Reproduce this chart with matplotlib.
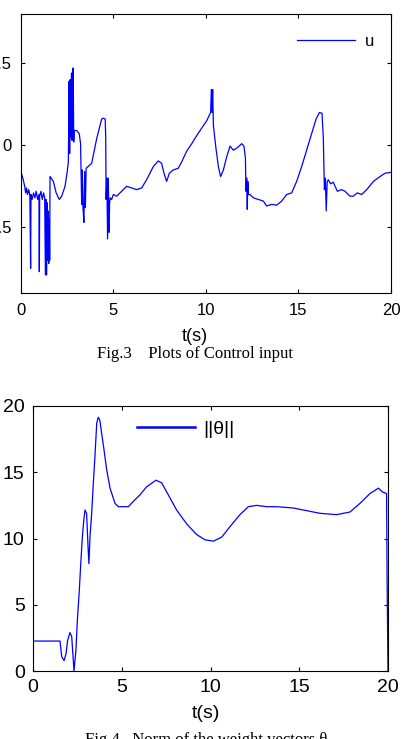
import matplotlib
matplotlib.use("Agg")
import matplotlib.pyplot as plt

# -----------------------------------------------------------------
# Data
# -----------------------------------------------------------------
# Fig.3 control input u(t)
t_u = [0.0, 0.02, 0.1, 0.2, 0.25, 0.3, 0.35, 0.42, 0.48, 0.52, 0.54,
       0.6, 0.68, 0.75, 0.82, 0.9, 0.97, 0.99, 1.01, 1.08, 1.15, 1.22,
       1.28, 1.32, 1.35, 1.38, 1.41, 1.44, 1.47, 1.5, 1.53, 1.55, 1.57,
       1.75, 1.9, 2.07, 2.2, 2.38, 2.5, 2.56, 2.6, 2.63, 2.66, 2.7, 2.73,
       2.76, 2.79, 2.82, 2.85, 2.88, 3.01, 3.15, 3.22, 3.28, 3.31, 3.35,
       3.4, 3.44, 3.48, 3.52, 3.82, 4.09, 4.36, 4.45, 4.55, 4.58, 4.6,
       4.64, 4.68, 4.72, 4.76, 4.79, 4.82, 4.9, 4.99, 5.17, 5.44, 5.71,
       5.98, 6.25, 6.52, 6.79, 7.15, 7.42, 7.6, 7.73, 7.87, 8.02, 8.23,
       8.5, 8.69, 8.96, 9.23, 9.5, 9.77, 10.04, 10.25, 10.29, 10.33,
       10.36, 10.4, 10.54, 10.67, 10.79, 10.94, 11.12, 11.3, 11.48,
       11.69, 11.93, 12.05, 12.13, 12.16, 12.2, 12.23, 12.26, 12.29,
       12.38, 12.56, 12.83, 13.1, 13.28, 13.55, 13.82, 14.09, 14.36,
       14.63, 14.9, 15.17, 15.44, 15.71, 15.95, 16.13, 16.27, 16.34,
       16.4, 16.45, 16.5, 16.55, 16.61, 16.74, 16.88, 17.1, 17.33,
       17.51, 17.78, 17.96, 18.18, 18.41, 18.69, 19.05, 19.41, 19.68,
       20.0]
u = [0.06, -0.17, -0.2, -0.25, -0.29, -0.26, -0.3, -0.27, -0.31, -0.75,
     -0.3, -0.33, -0.29, -0.32, -0.28, -0.33, -0.3, -0.77, -0.31, -0.28,
     -0.33, -0.29, -0.32, -0.79, -0.33, -0.79, -0.35, -0.7, -0.4, -0.72,
     -0.45, -0.7, -0.19, -0.22, -0.29, -0.33, -0.31, -0.25, -0.16, -0.1,
     0.39, -0.05, 0.4, 0.05, 0.44, 0.03, 0.47, 0.47, 0.02, 0.09, 0.09,
     0.07, 0.01, -0.36, -0.15, -0.38, -0.47, -0.16, -0.38, -0.14, -0.11,
     0.04, 0.16, 0.165, 0.16, 0.05, -0.33, -0.2, -0.57, -0.2, -0.53,
     -0.35, -0.32, -0.33, -0.3, -0.31, -0.28, -0.25, -0.26, -0.27, -0.26,
     -0.21, -0.13, -0.095, -0.11, -0.17, -0.22, -0.17, -0.15, -0.14,
     -0.1, -0.035, 0.01, 0.06, 0.105, 0.15, 0.2, 0.34, 0.2, 0.34, 0.12,
     -0.02, -0.13, -0.19, -0.15, -0.07, -0.005, -0.03, -0.015, 0.01,
     -0.005, -0.075, -0.28, -0.2, -0.39, -0.22, -0.3, -0.3, -0.32, -0.33,
     -0.34, -0.37, -0.36, -0.365, -0.34, -0.3, -0.29, -0.22, -0.13,
     -0.03, 0.07, 0.16, 0.2, 0.195, 0.05, -0.27, -0.2, -0.4, -0.22,
     -0.21, -0.235, -0.225, -0.28, -0.27, -0.28, -0.31, -0.31, -0.29,
     -0.3, -0.27, -0.22, -0.19, -0.17, -0.165]

# Fig.4 norm of the weight vectors ||theta||
t_th = [0.0, 0.0, 1.52, 1.62, 1.75, 1.86, 1.95, 2.08, 2.18, 2.31, 2.42,
        2.5, 2.61, 2.69, 2.78, 2.87, 2.93, 3.02, 3.1, 3.15, 3.21, 3.31,
        3.4, 3.49, 3.59, 3.68, 3.77, 3.87, 4.0, 4.15, 4.34, 4.62, 4.81,
        5.37, 5.65, 6.03, 6.4, 6.93, 7.25, 7.62, 8.09, 8.66, 9.22, 9.69,
        10.16, 10.63, 11.1, 11.66, 12.13, 12.6, 13.16, 13.73, 14.67,
        15.42, 16.17, 17.11, 17.86, 18.42, 18.99, 19.46, 19.7, 19.92,
        19.95, 20.0]
theta = [0.0, 2.26, 2.26, 1.08, 0.78, 1.3, 2.3, 2.9, 2.6, 0.0, 1.6,
         3.85, 6.1, 8.1, 10.1, 11.5, 12.15, 11.9, 9.4, 8.1, 10.1, 12.0,
         14.2, 16.2, 18.7, 19.15, 18.9, 17.9, 16.7, 15.2, 13.8, 12.65,
         12.4, 12.4, 12.8, 13.3, 13.9, 14.4, 14.2, 13.3, 12.15, 11.1,
         10.3, 9.9, 9.8, 10.1, 10.9, 11.8, 12.4, 12.5, 12.4, 12.4, 12.3,
         12.1, 11.9, 11.8, 12.0, 12.65, 13.4, 13.8, 13.5, 13.4, 6.7, 0.0]

x_ticks = [0, 5, 10, 15, 20]
u_ticks = [-0.5, 0, 0.5]
u_tick_labels = ['-0.5', '0', '0.5']
th_ticks = [0, 5, 10, 15, 20]

plt.rcParams['font.family'] = ['Liberation Sans', 'DejaVu Sans']

fig = plt.figure(figsize=(4.05, 7.39), dpi=100)

# -----------------------------------------------------------------
# Fig.3
# -----------------------------------------------------------------
ax1 = fig.add_axes([21/405, 1 - 293/739, 370/405, 279/739])
ax1.plot(t_u, u, color='#0000ff', lw=0.9, label='u')
ax1.set_xlim(0, 20)
ax1.set_ylim(-0.9, 0.8)
ax1.set_xticks(x_ticks)
ax1.set_yticks(u_ticks)
ax1.set_yticklabels(u_tick_labels)
ax1.tick_params(direction='in', top=True, right=True, length=3,
                labelsize=12, pad=7)
ax1.legend(loc='center left', bbox_to_anchor=(297/405, 1 - 41/739),
           bbox_transform=fig.transFigure, frameon=False, fontsize=12,
           handlelength=3.5, handletextpad=0.6, borderpad=0, borderaxespad=0)
fig.text(195/405, 1 - 337/739, 't(s)', ha='center', va='center', fontsize=13)
fig.text(195/405, 1 - 354/739, 'Fig.3    Plots of Control input',
         ha='center', va='center', fontsize=12, family='Liberation Serif')

# -----------------------------------------------------------------
# Fig.4
# -----------------------------------------------------------------
ax2 = fig.add_axes([33/405, 1 - 671/739, 355/405, 265/739])
ax2.plot(t_th, theta, color='#0000ff', lw=0.9, label='||θ||')
ax2.set_xlim(0, 20)
ax2.set_ylim(0, 20)
ax2.set_xticks(x_ticks)
ax2.set_yticks(th_ticks)
ax2.tick_params(direction='in', top=True, right=True, length=3,
                labelsize=14, pad=6)
leg = ax2.legend(loc='center left', bbox_to_anchor=(137/405, 1 - 429/739),
                 bbox_transform=fig.transFigure, frameon=False, fontsize=14,
                 handlelength=3.0, handletextpad=0.4, borderpad=0,
                 borderaxespad=0)
leg.get_lines()[0].set_linewidth(1.8)
fig.text(206/405, 1 - 713/739, 't(s)', ha='center', va='center', fontsize=14)
fig.text(206/405, 1 - 744/739, 'Fig.4   Norm of the weight vectors θ',
         ha='center', va='baseline', fontsize=12, family='Liberation Serif')

fig.savefig('out.png', dpi=100)
